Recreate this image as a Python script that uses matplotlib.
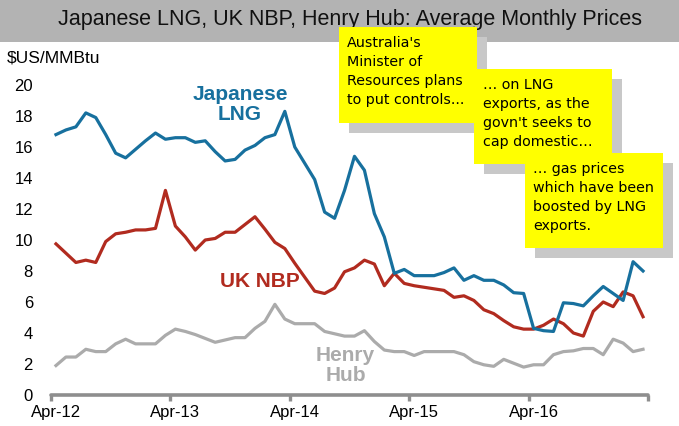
import matplotlib
matplotlib.use("Agg")
import matplotlib.pyplot as plt
from matplotlib.patches import Rectangle
import numpy as np
import pandas as pd

# ---------------- data ----------------
months = pd.date_range("2012-04-01", periods=60, freq="MS")
japanese_lng = [16.8, 17.1, 17.3, 18.2, 17.9, 16.8, 15.6, 15.3, 15.85, 16.4, 16.9, 16.5,
                16.6, 16.6, 16.3, 16.4, 15.7, 15.1, 15.2, 15.8, 16.1, 16.6, 16.8, 18.3,
                16.0, 14.95, 13.9, 11.8, 11.4, 13.2, 15.4, 14.5, 11.7, 10.2, 7.85, 8.1,
                7.7, 7.7, 7.7, 7.9, 8.2, 7.4, 7.7, 7.4, 7.4, 7.1, 6.6, 6.55,
                4.3, 4.15, 4.1, 5.95, 5.9, 5.75, 6.4, 7.0, 6.55, 6.1, 8.6, 8.0]
uk_nbp = [9.75, 9.15, 8.55, 8.7, 8.55, 9.9, 10.4, 10.5, 10.65, 10.65, 10.75, 13.2,
          10.9, 10.2, 9.35, 10.0, 10.1, 10.5, 10.5, 11.0, 11.5, 10.7, 9.85, 9.45,
          8.5, 7.6, 6.7, 6.55, 6.9, 7.95, 8.2, 8.7, 8.45, 7.05, 7.85, 7.2,
          7.05, 6.95, 6.85, 6.75, 6.3, 6.4, 6.1, 5.5, 5.25, 4.8, 4.4, 4.25,
          4.25, 4.5, 4.9, 4.6, 4.0, 3.8, 5.4, 6.0, 5.7, 6.65, 6.4, 5.05]
henry_hub = [1.9, 2.45, 2.45, 2.95, 2.8, 2.8, 3.3, 3.6, 3.3, 3.3, 3.3, 3.85,
             4.25, 4.1, 3.9, 3.65, 3.4, 3.55, 3.7, 3.7, 4.3, 4.75, 5.85, 4.9,
             4.6, 4.6, 4.6, 4.1, 3.95, 3.8, 3.8, 4.15, 3.45, 2.9, 2.8, 2.8,
             2.55, 2.8, 2.8, 2.8, 2.8, 2.6, 2.15, 1.95, 1.85, 2.3, 2.05, 1.8,
             1.95, 1.95, 2.6, 2.8, 2.85, 3.0, 3.0, 2.6, 3.6, 3.35, 2.8, 2.95]
x_tick_labels = ["Apr-12", "Apr-13", "Apr-14", "Apr-15", "Apr-16"]
y_ticks = [0, 2, 4, 6, 8, 10, 12, 14, 16, 18, 20]

title = "Japanese LNG, UK NBP, Henry Hub: Average Monthly Prices"
unit_label = "$US/MMBtu"
notes = ["Australia's\nMinister of\nResources plans\nto put controls...",
         "\u2026 on LNG\nexports, as the\ngovn't seeks to\ncap domestic\u2026",
         "\u2026 gas prices\nwhich have been\nboosted by LNG\nexports."]

# ---------------- style ----------------
W, H = 679, 426
BLUE = "#17709E"
RED = "#B12B1F"
GREY = "#ABABAB"
AXIS = "#8E8E8E"
plt.rcParams["font.family"] = ["Liberation Sans", "DejaVu Sans"]

fig = plt.figure(figsize=(W / 100, H / 100), dpi=100)


def fx(px):
    return px / W


def fy(py):
    return 1 - py / H


# title band
fig.patches.append(Rectangle((0, fy(42)), 1, 42 / H, transform=fig.transFigure,
                             facecolor="#B3B3B3", edgecolor="none", zorder=0))
fig.text(fx(350), fy(20), title, ha="center", va="center", fontsize=15.5, color="#111111")
fig.text(fx(7), fy(58), unit_label, ha="left", va="center", fontsize=12.5)

left, right, top, bottom = 51, 648, 85, 395
ax = fig.add_axes([fx(left), fy(bottom), (right - left) / W, (bottom - top) / H])
ax.set_facecolor("none")

x = np.arange(len(months))
lw = 2.3
ax.plot(x, henry_hub, color=GREY, lw=lw, solid_joinstyle="round", zorder=3)
ax.plot(x, uk_nbp, color=RED, lw=lw, solid_joinstyle="round", zorder=4)
ax.plot(x, japanese_lng, color=BLUE, lw=lw, solid_joinstyle="round", zorder=5)

ax.set_xlim(-0.5, len(months) - 0.5)
ax.set_ylim(0, 20)

for s in ["left", "right", "top"]:
    ax.spines[s].set_visible(False)
ax.spines["bottom"].set_color(AXIS)
ax.spines["bottom"].set_linewidth(2.6)
ax.spines["bottom"].set_capstyle("round")

# ticks at category boundaries, labels at category centres
ax.set_xticks(np.arange(-0.5, len(months), 12))
ax.set_xticklabels([])
ax.tick_params(axis="x", which="major", length=4, width=2.4, color=AXIS, direction="out")
ax.set_xticks(np.arange(0, len(months), 12), minor=True)
ax.set_xticklabels(x_tick_labels, minor=True)
ax.tick_params(axis="x", which="minor", length=0, pad=7, labelsize=12)

ax.set_yticks(y_ticks)
ax.tick_params(axis="y", length=0, pad=13, labelsize=12)

# series labels
ax.text(18.5, 18.75, "Japanese\nLNG", color=BLUE, fontsize=15, fontweight="bold",
        ha="center", va="center", linespacing=1.05)
ax.text(20.5, 7.3, "UK NBP", color=RED, fontsize=15, fontweight="bold",
        ha="center", va="center")
ax.text(29.1, 1.9, "Henry\nHub", color=GREY, fontsize=15, fontweight="bold",
        ha="center", va="center", linespacing=1.12)

# sticky notes with shadows
boxes = [(339, 27, 477, 123), (474, 69, 612, 164), (525, 153, 663, 248)]
text_pos = [(347, 36), (483, 78), (533, 162)]
for (x0, y0, x1, y1), (tx, ty), note in zip(boxes, text_pos, notes):
    fig.patches.append(Rectangle((fx(x0 + 10), fy(y1 + 10)), (x1 - x0) / W, (y1 - y0) / H,
                                 transform=fig.transFigure, facecolor="#C8C8C8",
                                 edgecolor="none", zorder=10))
    fig.patches.append(Rectangle((fx(x0), fy(y1)), (x1 - x0) / W, (y1 - y0) / H,
                                 transform=fig.transFigure, facecolor="#FFFF00",
                                 edgecolor="none", zorder=11))
    fig.text(fx(tx), fy(ty), note, ha="left", va="top", fontsize=10.3,
             family=["DejaVu Sans"], linespacing=1.46, zorder=12)

fig.savefig("out.png", dpi=100)
